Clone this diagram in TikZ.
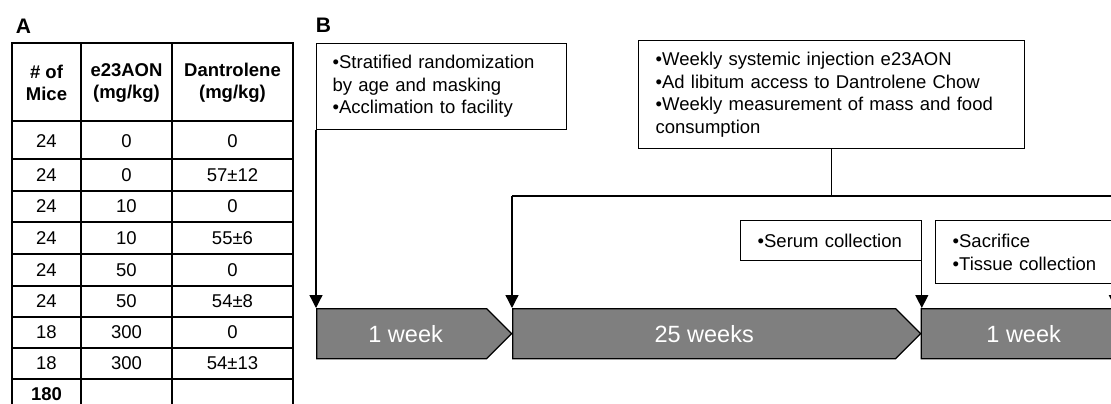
\documentclass[tikz,border=0pt]{standalone}
\usepackage{fontspec}
\setmainfont{Liberation Sans}
\usetikzlibrary{arrows.meta,shapes.symbols}
\definecolor{weekgray}{HTML}{7F7F7F}
\tikzset{
  note/.style={draw, line width=1.3pt, align=left, inner xsep=16pt, anchor=north west,
    font=\fontsize{18.5}{22.5}\selectfont},
  weekbar/.style={signal, signal to=east, draw, line width=1.3pt, fill=weekgray, text=white,
    minimum height=50pt, inner sep=0pt, anchor=north west, font=\fontsize{23.5}{26}\selectfont},
  arr/.style={line width=1.3pt, -{Triangle[width=13pt,length=13pt]}},
  cell/.style={align=center, font=\fontsize{18.5}{22.5}\selectfont},
  head/.style={cell, font=\bfseries\fontsize{18.5}{22.5}\selectfont},
  tabline/.style={line width=2.2pt},
  panel/.style={font=\bfseries\fontsize{21}{21}\selectfont},
}
\begin{document}
\begin{tikzpicture}[x=1pt, y=-1pt]
  \useasboundingbox (0,0) rectangle (1111,404);

  % panel A: table
  \node[panel] (labA) at (23.5,26) {A};
  \draw[tabline] (12,43) rectangle (293,414);
  \foreach \x in {81,172}
    \draw[tabline] (\x,43) -- (\x,414);
  \foreach \y in {121,159,191,222,254,286,317,348,379}
    \draw[tabline] (12,\y) -- (293,\y);
  \node[head] (hmice) at (46.5,83) {\# of\\Mice};
  \node[head] (haon) at (126.5,83) {e23AON\\(mg/kg)};
  \node[head] (hdan) at (232.5,83) {Dantrolene\\(mg/kg)};
  \foreach \y/\n/\a/\d [count=\i] in {141/24/0/0, 175/24/0/57±12, 206.5/24/10/0,
      238/24/10/55±6, 270/24/50/0, 301.5/24/50/54±8, 332.5/18/300/0, 363.5/18/300/54±13} {
    \node[cell] (mice\i) at (46.5,\y) {\n};
    \node[cell] (aon\i) at (126.5,\y) {\a};
    \node[cell] (dan\i) at (232.5,\y) {\d};
  }
  \node[head] (total) at (46.5,394.5) {180};

  % panel B: timeline
  \node[panel] (labB) at (323.5,25) {B};
  \node[weekbar, minimum width=195pt] (w1) at (316,308) {\hspace*{8pt}1 week};
  \node[weekbar, minimum width=408pt] (w2) at (512,308) {25 weeks};
  \node[weekbar, minimum width=230pt] (w3) at (920.5,308) {1 week};

  \node[note, text width=218pt, minimum width=250pt, minimum height=86pt] (strat) at (316,43)
    {\textbullet Stratified randomization\\by age and masking\\\textbullet Acclimation to facility};
  \node[note, text width=352pt, minimum width=386pt, minimum height=108pt] (weekly) at (638,40)
    {\textbullet Weekly systemic injection e23AON\\\textbullet Ad libitum access to Dantrolene Chow\\
     \textbullet Weekly measurement of mass and food\\consumption};
  \node[note, inner xsep=17pt, text width=146.5pt, minimum width=180.5pt, minimum height=40pt] (serum) at (740,220)
    {\textbullet Serum collection};
  \node[note, inner xsep=17pt, text width=145pt, minimum width=179pt, minimum height=63pt] (sac) at (935,220)
    {\textbullet Sacrifice\\\textbullet Tissue collection};

  \coordinate (busL) at (512,196);
  \coordinate (busR) at (1125,196);
  \draw[arr] (strat.south west) -- (w1.north west);
  \draw[line width=1.3pt] (weekly.south) -- (weekly.south |- busL);
  \draw[line width=1.3pt] (busL) -- (busR);
  \draw[arr] (busL) -- (w2.north west);
  \draw[arr] (serum.south east) -- (serum.south east |- w3.north);
  \draw[arr] (sac.south east) -- (sac.south east |- w3.north);
\end{tikzpicture}
\end{document}
